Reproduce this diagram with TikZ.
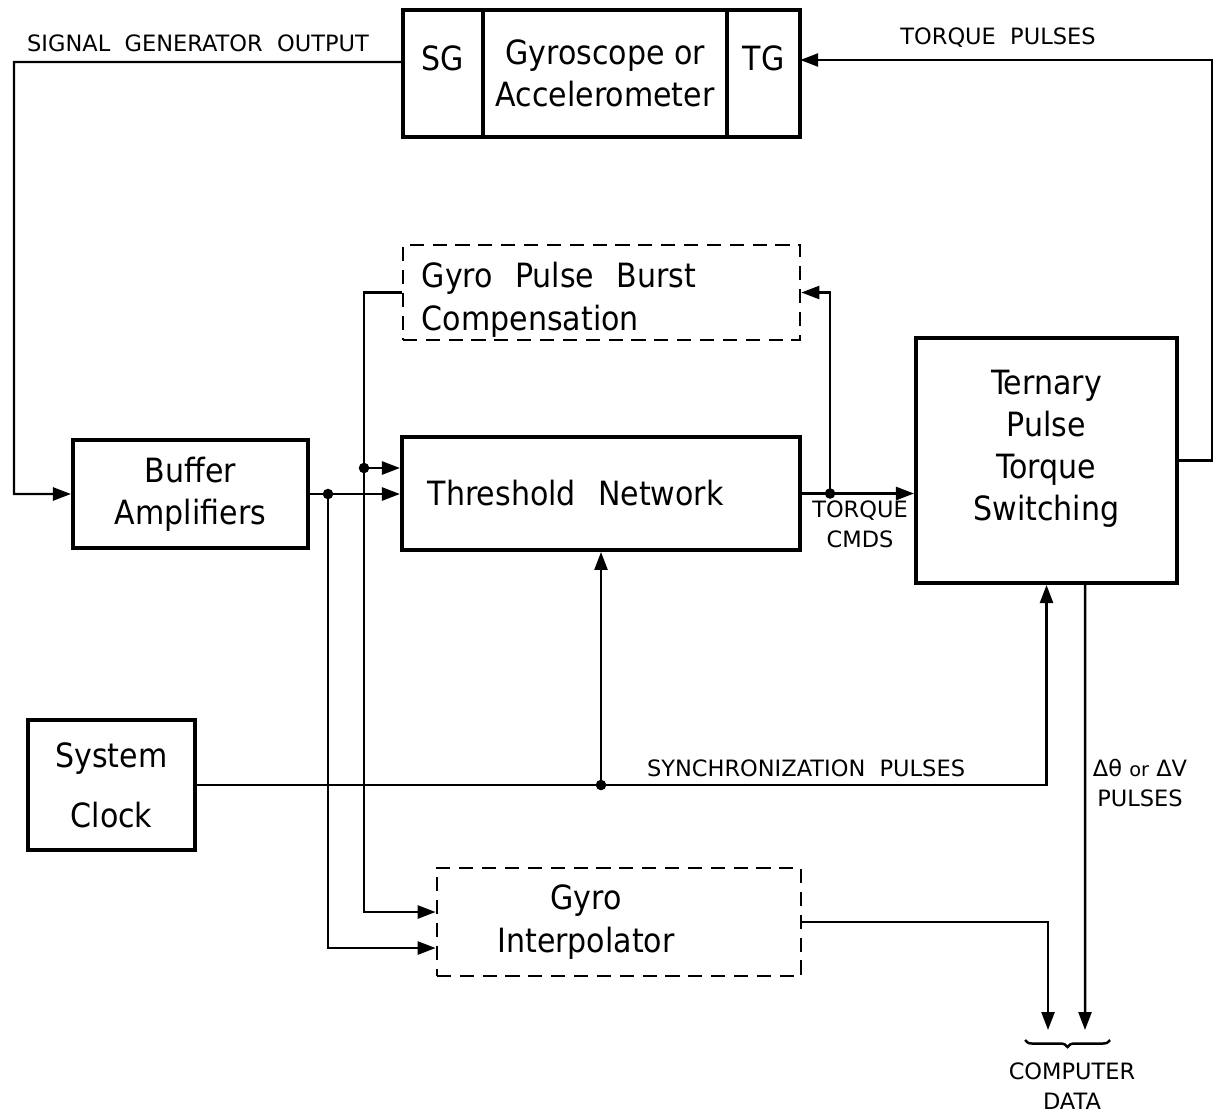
\documentclass[tikz,border=0pt]{standalone}
\usepackage{fontspec}
\usetikzlibrary{positioning, arrows.meta, decorations.pathreplacing}
\newfontfamily\boxfont{DejaVu Sans Condensed}
\newfontfamily\labfont{DejaVu Sans}

\begin{document}
\begin{tikzpicture}[
        x=0.01cm, y=-0.01cm,
        block/.style={rectangle, draw, line width=1.1pt, align=center, inner sep=0pt, font=\boxfont\fontsize{9.5}{12}\selectfont},
        dblock/.style={block, line width=0.7pt, dash pattern=on 4pt off 2.5pt},
        part/.style={block, outer sep=0pt, minimum height=1.27cm},
        lbl/.style={font=\labfont\fontsize{6.4}{8.5}\selectfont, align=center, inner sep=0pt},
        arrow/.style={-{Triangle[length=1.8mm, width=1.3mm]}, line width=0.7pt},
        line/.style={line width=0.7pt}
    ]
        \useasboundingbox (0,0) rectangle (1216,1112);

        % Sensor
        \node[part, minimum width=0.8cm, text height=0.25cm, text depth=0.32cm] (sg) at (443,73.5) {SG};
        \node[part, minimum width=2.44cm, right=0pt of sg] (gyro) {Gyroscope or\\Accelerometer};
        \node[part, minimum width=0.73cm, text height=0.25cm, text depth=0.32cm, right=0pt of gyro] (tg) {TG};

        % Blocks
        \node[block, minimum width=2.35cm, minimum height=1.08cm] (buf) at (190.5,494) {Buffer\\Amplifiers};
        \node[dblock, align=left, text width=3.59cm, inner xsep=0.19cm, minimum height=0.95cm] (comp) at (601.5,292.5) {\rule{0pt}{0.4cm}Gyro\ \ Pulse\ \ Burst\\Compensation};
        \node[block, align=left, text width=3.46cm, inner xsep=0.26cm, minimum height=1.13cm] (thr) at (601,493.5) {Threshold\ \ Network};
        \node[block, minimum width=2.61cm, minimum height=2.45cm] (tern) at (1046.5,460.5) {Ternary\\Pulse\\Torque\\Switching\rule[-0.3cm]{0pt}{0pt}};
        \node[block, minimum width=1.67cm, minimum height=1.30cm] (clk) at (111.5,785) {System\\[5pt]Clock};
        \node[dblock, minimum width=3.64cm, minimum height=1.08cm] (interp) at (619,922) {Gyro\hspace*{0.66cm}\\Interpolator\hspace*{0.66cm}};

        % Turning points
        \coordinate (sgo) at (14,62);
        \coordinate (tpo) at (1212,60);
        \coordinate (j1) at (328,494);
        \coordinate (j2) at (364,468);
        \coordinate (bus) at (364,912);
        \coordinate (j3) at ([xshift=0.28cm]thr.east);
        \coordinate (j4) at (clk.east -| thr.south);
        \coordinate (cdL) at (1048,1030);
        \coordinate (cdR) at (1085,1030);

        % Loop through the sensor
        \draw[arrow] ([yshift=0.115cm]sg.west) -- (sgo) |- (buf.west);
        \draw[arrow] (tern.east) -| (tpo) -- (tpo -| tg.east);

        % Signal paths
        \draw[arrow] (buf.east) -- (buf.east -| thr.west);
        \draw[arrow] (j1) |- ([yshift=-0.26cm]interp.west);
        \draw[arrow] (comp.west) -| (bus) -- (bus -| interp.west);
        \draw[arrow] (j2) -- (j2 -| thr.west);
        \draw[arrow] (thr.east) -- (thr.east -| tern.west);
        \draw[arrow] (j3) |- (comp.east);
        \draw[arrow] (clk.east) -| (tern.south);
        \draw[arrow] (j4) -- (thr.south);
        \draw[arrow] (interp.east) -| (cdL);
        \draw[arrow] ([xshift=0.385cm]tern.south) -- (cdR);

        \foreach \j in {j1, j2, j3, j4}
            \fill (\j) circle (1.5pt);

        % Labels
        \node[lbl] (sgout) at (198,43) {SIGNAL\ \ GENERATOR\ \ OUTPUT};
        \node[lbl] (tpuls) at (998,38) {TORQUE\ \ PULSES};
        \node[lbl] (tcmd) at (860,524) {TORQUE\\CMDS};
        \node[lbl] (sync) at (806,768) {SYNCHRONIZATION\ \ PULSES};
        \node[lbl] (dpuls) at (1140,783) {Δθ {\fontsize{5.5}{7}\selectfont or} ΔV\\PULSES};
        \coordinate (brL) at (1025,1040);
        \coordinate (brR) at (1110,1040);
        \draw[line, decorate, decoration={brace, amplitude=0.07cm}] (brR) -- (brL);
        \node[lbl] (cdata) at (1072,1086) {COMPUTER\\DATA};
    \end{tikzpicture}
\end{document}
